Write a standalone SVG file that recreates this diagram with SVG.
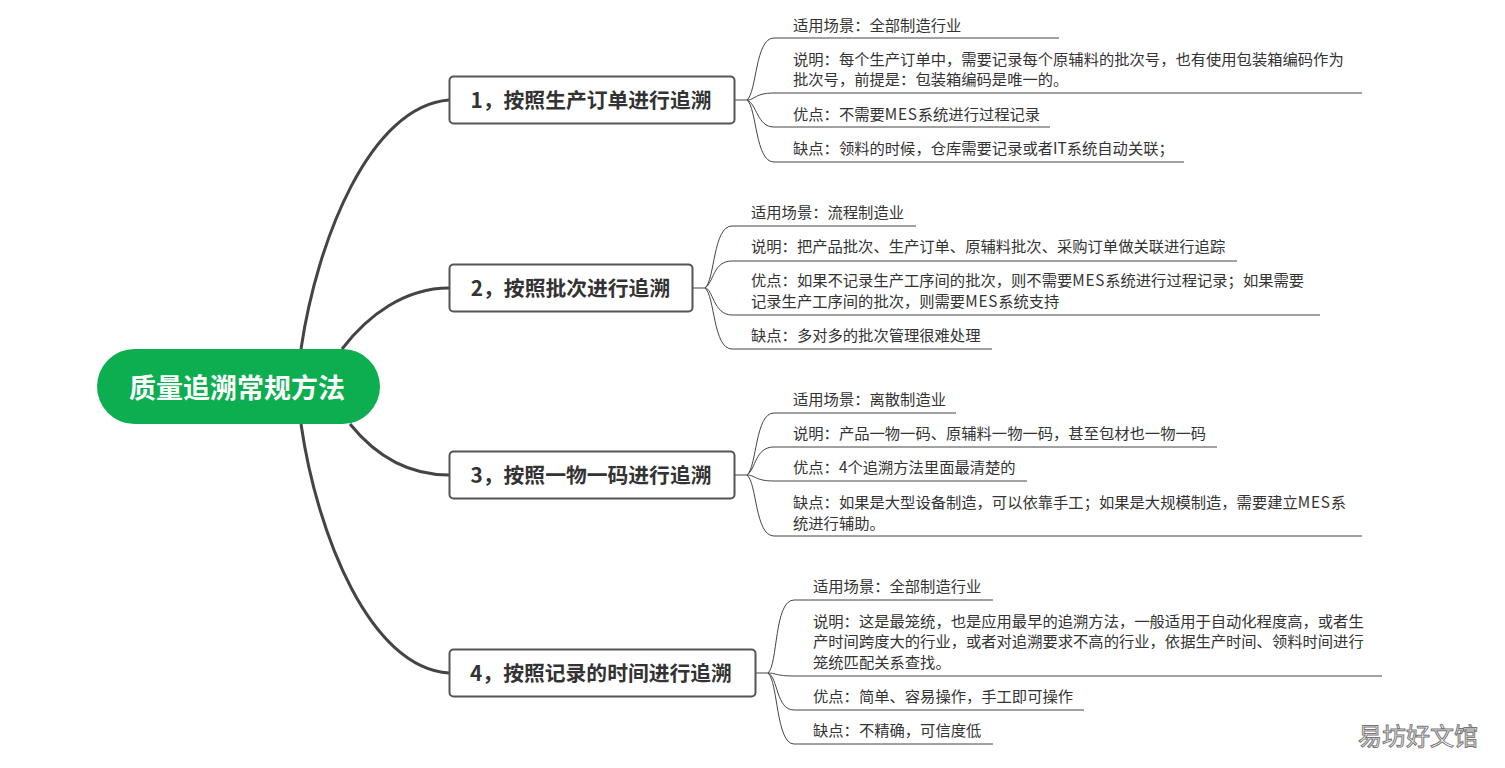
<svg xmlns="http://www.w3.org/2000/svg" width="1505" height="768" viewBox="0 0 1505 768">
<style>
text{font-family:"Noto Sans CJK SC","Liberation Sans",sans-serif}
.t{font-size:15.3px;fill:#333}
.l{letter-spacing:.8px}
.h{font-size:20.8px;font-weight:700;fill:#333;text-anchor:middle}
.n{fill:#fff;stroke:#555;stroke-width:2}
.m{fill:none;stroke:#444;stroke-width:3}
.b{fill:none;stroke:#444;stroke-width:1}
.w{font-size:24px;fill:#fff;stroke:#777;stroke-width:1}
</style>
<rect width="1505" height="768" fill="#fff"/>
<g id="connectors">
<path class="m" d="M301 349C317 240 370 106 449 100"/>
<path class="m" d="M342 349C368 315 405 288 449 288"/>
<path class="m" d="M350 424C375 455 408 475 449 475"/>
<path class="m" d="M301 424C317 535 370 668 449 673"/>
<path class="b" d="M735 100H747C757 92 755 38 774 38H1059"/>
<path class="b" d="M747 100C755 100 755 93 774 93H1362"/>
<path class="b" d="M747 100C757 104 757 127 774 127H1050"/>
<path class="b" d="M747 100C757 108 755 162 774 162H1184"/>
<path class="b" d="M693 288H705C715 280 713 226 732 226H916"/>
<path class="b" d="M705 288C714 282 713 261 732 261H1237"/>
<path class="b" d="M705 288C713 288 713 315 732 315H1320"/>
<path class="b" d="M705 288C715 296 713 349 732 349H992"/>
<path class="b" d="M735 475H747C757 467 755 413 774 413H956"/>
<path class="b" d="M747 475C756 469 755 447 774 447H1217"/>
<path class="b" d="M747 475C755 475 755 481 774 481H1027"/>
<path class="b" d="M747 475C757 483 755 536 774 536H1362"/>
<path class="b" d="M756 673H768C778 665 774 600 794 600H993"/>
<path class="b" d="M768 673C776 673 776 676 794 676H1382"/>
<path class="b" d="M768 673C778 677 776 710 794 710H1084"/>
<path class="b" d="M768 673C778 681 776 744 794 744H993"/>
</g>
<g id="root"><rect x="97" y="349" width="283" height="75" rx="37.5" fill="#0cae50"/><text x="237" y="398" font-size="27" font-weight="700" fill="#fff" text-anchor="middle">质量追溯常规方法</text></g>
<g id="n1"><rect class="n" x="449.5" y="76.5" width="285" height="47" rx="4"/><text class="h" x="591" y="108">1，按照生产订单进行追溯</text></g>
<g id="n2"><rect class="n" x="449.5" y="264.5" width="243" height="47" rx="4"/><text class="h" x="570.5" y="296">2，按照批次进行追溯</text></g>
<g id="n3"><rect class="n" x="449.5" y="451.5" width="285" height="47" rx="4"/><text class="h" x="591" y="483">3，按照一物一码进行追溯</text></g>
<g id="n4"><rect class="n" x="449.5" y="649.5" width="306" height="47" rx="4"/><text class="h" x="601" y="681">4，按照记录的时间进行追溯</text></g>
<g id="n1-items">
<text class="t" x="793" y="31">适用场景：全部制造行业</text>
<text class="t" x="793" y="65">说明：每个生产订单中，需要记录每个原辅料的批次号，也有使用包装箱编码作为</text>
<text class="t" x="793" y="85">批次号，前提是：包装箱编码是唯一的。</text>
<text class="t" x="793" y="120">优点：不需要<tspan class="l">MES</tspan>系统进行过程记录</text>
<text class="t" x="793" y="154">缺点：领料的时候，仓库需要记录或者IT系统自动关联；</text>
</g>
<g id="n2-items">
<text class="t" x="751" y="218">适用场景：流程制造业</text>
<text class="t" x="751" y="252">说明：把产品批次、生产订单、原辅料批次、采购订单做关联进行追踪</text>
<text class="t" x="751" y="286">优点：如果不记录生产工序间的批次，则不需要<tspan class="l">MES</tspan>系统进行过程记录；如果需要</text>
<text class="t" x="751" y="307">记录生产工序间的批次，则需要<tspan class="l">MES</tspan>系统支持</text>
<text class="t" x="751" y="341">缺点：多对多的批次管理很难处理</text>
</g>
<g id="n3-items">
<text class="t" x="793" y="405">适用场景：离散制造业</text>
<text class="t" x="793" y="439">说明：产品一物一码、原辅料一物一码，甚至包材也一物一码</text>
<text class="t" x="793" y="473">优点：4个追溯方法里面最清楚的</text>
<text class="t" x="793" y="508">缺点：如果是大型设备制造，可以依靠手工；如果是大规模制造，需要建立<tspan class="l">MES</tspan>系</text>
<text class="t" x="793" y="529">统进行辅助。</text>
</g>
<g id="n4-items">
<text class="t" x="813" y="592">适用场景：全部制造行业</text>
<text class="t" x="813" y="627">说明：这是最笼统，也是应用最早的追溯方法，一般适用于自动化程度高，或者生</text>
<text class="t" x="813" y="647">产时间跨度大的行业，或者对追溯要求不高的行业，依据生产时间、领料时间进行</text>
<text class="t" x="813" y="668">笼统匹配关系查找。</text>
<text class="t" x="813" y="702">优点：简单、容易操作，手工即可操作</text>
<text class="t" x="813" y="736">缺点：不精确，可信度低</text>
</g>
<text class="w" x="1358" y="745">易坊好文馆</text>
</svg>
